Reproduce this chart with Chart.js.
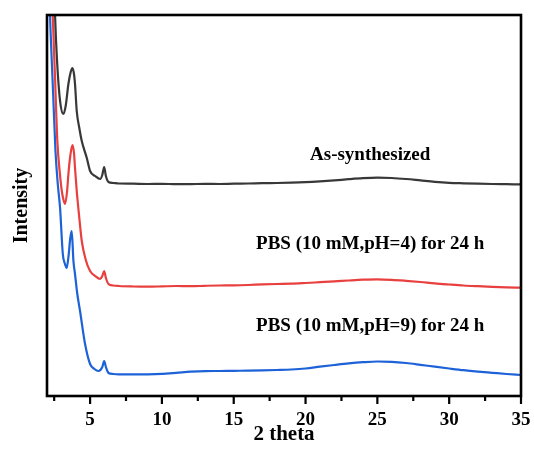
<!DOCTYPE html>
<html>
<head>
<meta charset="utf-8">
<script src="https://cdn.jsdelivr.net/npm/chart.js@4/dist/chart.umd.min.js"></script>
<style>
  html, body { margin: 0; padding: 0; background: #ffffff; }
  canvas { display: block; }
</style>
</head>
<body>
<canvas id="xrd" width="534" height="454"></canvas>
<script>
// XRD patterns, intensity in arbitrary units (curves offset vertically)
const seriesNames = ['As-synthesized', 'PBS (10 mM,pH=4) for 24 h', 'PBS (10 mM,pH=9) for 24 h'];

const asSynX = [2.45, 2.56, 2.70, 2.91, 3.14, 3.30, 3.49, 3.65, 3.77, 3.88, 3.95, 4.07, 4.25, 4.42, 4.77, 5.0, 5.35, 5.7, 5.85, 5.98, 6.1, 6.28, 6.6,
  7, 8, 9, 10, 11, 12, 13, 14, 15, 16, 17, 18, 19, 20, 21, 22, 23, 24, 25, 26, 27, 28, 29, 30, 31, 32, 33, 34, 35];
const asSynY = [440, 381, 335, 295, 282, 290, 312, 324, 328, 322, 312, 285, 268, 255, 238, 225, 220, 217, 221, 229, 220, 214, 213,
  212.5, 212.3, 212, 212.2, 211.8, 211.9, 212.1, 212, 212.3, 212.5, 212.8, 213, 213.3, 213.8, 214.6, 215.6, 216.8, 217.8, 218.3, 218, 217, 215.6, 214.2, 213.2, 212.7, 212.3, 212, 211.8, 211.6];

const ph4X = [2.30, 2.40, 2.56, 2.72, 2.90, 3.03, 3.15, 3.26, 3.40, 3.49, 3.62, 3.77, 3.88, 3.95, 4.07, 4.25, 4.42, 4.7, 5.0, 5.35, 5.7, 5.85, 5.98, 6.1, 6.28, 6.6,
  7, 8, 9, 10, 11, 12, 13, 14, 15, 16, 17, 18, 19, 20, 21, 22, 23, 24, 25, 26, 27, 28, 29, 30, 31, 32, 33, 34, 35];
const ph4Y = [440, 381, 318, 255, 222, 205, 196, 192, 205, 222, 240, 251, 243, 228, 205, 178, 155, 136, 125, 120, 117, 120, 125, 118, 112, 110.5,
  110, 109.5, 109.3, 109.6, 110, 109.8, 110.2, 110.5, 110.6, 111, 111.6, 112, 112.3, 113, 113.8, 114.6, 115.5, 116.3, 116.7, 116.2, 115.2, 114, 112.6, 111.5, 110.5, 109.8, 109.2, 108.7, 108.3];

const ph9X = [2.10, 2.21, 2.42, 2.59, 2.75, 2.91, 3.10, 3.25, 3.37, 3.50, 3.62, 3.72, 3.84, 3.95, 4.10, 4.30, 4.65, 5.0, 5.3, 5.58, 5.85, 5.98, 6.1, 6.28, 6.6,
  7, 8, 9, 10, 11, 12, 13, 14, 15, 16, 17, 18, 19, 20, 21, 22, 23, 24, 25, 26, 27, 28, 29, 30, 31, 32, 33, 34, 35];
const ph9Y = [440, 381, 305, 245, 212, 188, 142, 132, 128, 140, 158, 165, 135, 122, 103, 85, 52, 32, 27, 25, 29, 35, 29, 23, 22,
  21.7, 21.6, 21.7, 22.2, 23.2, 24.3, 24.9, 25, 25.2, 25.3, 25.6, 26, 26.5, 27.5, 29.3, 31, 32.6, 33.8, 34.5, 34.2, 33, 31.2, 29.3, 27.5, 25.8, 24.4, 23.2, 22, 21];

// label anchors (2θ, intensity) for the curve names
const labelX = [24.5, 24.5, 24.5];
const labelY = [241, 152, 70];

const majorTicks = [5, 10, 15, 20, 25, 30, 35];
const minorTicks = [2.5, 7.5, 12.5, 17.5, 22.5, 27.5, 32.5];

const lineColors = ['#383838', '#e8403f', '#1e62d8'];
const serif = "'Liberation Serif', 'Times New Roman', serif";

function pts(xs, ys) { return xs.map((x, i) => ({ x: x, y: ys[i] })); }

const framePlugin = {
  id: 'frame',
  afterDraw(chart) {
    const { ctx, chartArea: a, scales } = chart;
    const xs = scales.x;
    ctx.save();
    ctx.strokeStyle = '#000';
    ctx.lineWidth = 2.6;
    ctx.strokeRect(a.left, a.top, a.right - a.left, a.bottom - a.top);
    ctx.lineWidth = 2.2;
    ctx.beginPath();
    majorTicks.forEach(v => {
      const px = xs.getPixelForValue(v);
      ctx.moveTo(px, a.bottom);
      ctx.lineTo(px, a.bottom + 8);
    });
    minorTicks.forEach(v => {
      const px = xs.getPixelForValue(v);
      ctx.moveTo(px, a.bottom);
      ctx.lineTo(px, a.bottom + 5);
    });
    ctx.stroke();
    ctx.restore();
  }
};

const namePlugin = {
  id: 'curveNames',
  afterDatasetsDraw(chart) {
    const { ctx, scales } = chart;
    ctx.save();
    ctx.fillStyle = '#000';
    ctx.font = 'bold 19px ' + serif;
    ctx.textAlign = 'center';
    ctx.textBaseline = 'middle';
    seriesNames.forEach((name, i) => {
      ctx.fillText(name, scales.x.getPixelForValue(labelX[i]), scales.y.getPixelForValue(labelY[i]));
    });
    ctx.restore();
  }
};

new Chart(document.getElementById('xrd'), {
  type: 'line',
  data: {
    datasets: [
      { label: seriesNames[0], data: pts(asSynX, asSynY), borderColor: lineColors[0] },
      { label: seriesNames[1], data: pts(ph4X, ph4Y), borderColor: lineColors[1] },
      { label: seriesNames[2], data: pts(ph9X, ph9Y), borderColor: lineColors[2] }
    ]
  },
  options: {
    responsive: false,
    animation: false,
    layout: { padding: { left: 0, right: 13, top: 15, bottom: 0 } },
    elements: {
      point: { radius: 0 },
      line: { borderWidth: 2.2, tension: 0.4, cubicInterpolationMode: 'monotone' }
    },
    plugins: { legend: { display: false }, tooltip: { enabled: false } },
    scales: {
      x: {
        type: 'linear',
        min: 2,
        max: 35,
        grid: { display: false, drawTicks: false },
        border: { display: false },
        afterBuildTicks(scale) { scale.ticks = majorTicks.map(v => ({ value: v })); },
        afterFit(scale) {
          scale.height = 58;
          scale.paddingLeft = 0;
          scale.paddingRight = 0;
        },
        ticks: {
          padding: 13,
          color: '#000',
          maxRotation: 0,
          autoSkip: false,
          font: { family: serif, size: 19, weight: 'bold' },
          callback: v => String(v)
        },
        title: {
          display: true,
          text: '2 theta',
          color: '#000',
          padding: { top: 7, bottom: 7 },
          font: { family: serif, size: 21, weight: 'bold' }
        }
      },
      y: {
        type: 'linear',
        min: 0,
        max: 381,
        grid: { display: false, drawTicks: false },
        border: { display: false },
        ticks: { display: false },
        afterFit(scale) { scale.width = 47; },
        title: {
          display: true,
          text: 'Intensity',
          color: '#000',
          padding: { top: 10, bottom: 10 },
          font: { family: serif, size: 20, weight: 'bold' }
        }
      }
    }
  },
  plugins: [framePlugin, namePlugin]
});
</script>
</body>
</html>
